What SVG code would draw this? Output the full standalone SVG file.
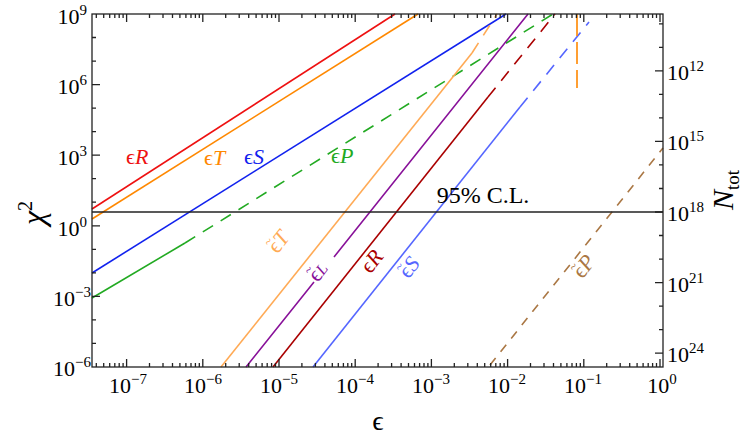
<svg xmlns="http://www.w3.org/2000/svg" width="747" height="439" viewBox="0 0 747 439">
<style>
text{font-family:"Liberation Serif","DejaVu Serif",serif;fill:#000}
.tk{font-size:22px}
.lb{font-size:22px}
.ln{fill:none;stroke-width:1.6}
.ax{fill:none;stroke:#222;stroke-width:1.3}
</style>
<rect x="0" y="0" width="747" height="439" fill="#fff"/>
<g id="connectors">
<path class="ln" stroke="#ee1111" d="M92,209 L395,14"/>
<path class="ln" stroke="#ff8800" d="M92,219 L418,14"/>
<path class="ln" stroke="#1122ee" d="M92,273 L506,14"/>
<path class="ln" stroke="#22aa22" d="M92,298 L185,243"/>
<path class="ln" stroke="#22aa22" stroke-dasharray="12,9" d="M185,243 L553,14"/>
<path class="ln" stroke="#ffaa55" d="M221,367 L472,53"/>
<path class="ln" stroke="#ffaa55" stroke-dasharray="12,9" d="M472,53 L497,14"/>
<path class="ln" stroke="#881199" d="M246,367 L314,282 M334,257 L528,14"/>
<path class="ln" stroke="#aa0000" d="M273,367 L488,97"/>
<path class="ln" stroke="#aa0000" stroke-dasharray="12,9" d="M488,97 L555,14"/>
<path class="ln" stroke="#5566ff" d="M313,367 L520,107"/>
<path class="ln" stroke="#5566ff" stroke-dasharray="12,9" d="M520,107 L589,22"/>
<path class="ln" stroke="#ff8800" stroke-dasharray="22,6" d="M577,14 L577,88"/>
<path class="ln" stroke="#aa7744" stroke-dasharray="9,8" d="M490,365 L663,148"/>
<path fill="none" stroke="#222" stroke-width="1.6" d="M92,212 H663"/>
</g>
<g id="axes">
<rect class="ax" x="92" y="14" width="571" height="353"/>
<path class="ax" d="M126.6,367v-8M202.8,367v-8M279,367v-8M355.2,367v-8M431.4,367v-8M507.6,367v-8M583.8,367v-8M660,367v-8
M126.6,14v8M202.8,14v8M279,14v8M355.2,14v8M431.4,14v8M507.6,14v8M583.8,14v8M660,14v8"/>
<path class="ax" d="M96.3,367v-4M103.7,367v-4M109.7,367v-4M114.8,367v-4M119.2,367v-4M123.1,367v-4
M149.5,367v-4M163,367v-4M172.5,367v-4M179.9,367v-4M185.9,367v-4M191,367v-4M195.4,367v-4M199.3,367v-4
M225.7,367v-4M239.2,367v-4M248.7,367v-4M256.1,367v-4M262.1,367v-4M267.2,367v-4M271.6,367v-4M275.5,367v-4
M301.9,367v-4M315.4,367v-4M324.9,367v-4M332.3,367v-4M338.3,367v-4M343.4,367v-4M347.8,367v-4M351.7,367v-4
M378.1,367v-4M391.6,367v-4M401.1,367v-4M408.5,367v-4M414.5,367v-4M419.6,367v-4M424,367v-4M427.9,367v-4
M454.3,367v-4M467.8,367v-4M477.3,367v-4M484.7,367v-4M490.7,367v-4M495.8,367v-4M500.2,367v-4M504.1,367v-4
M530.5,367v-4M544,367v-4M553.5,367v-4M560.9,367v-4M566.9,367v-4M572,367v-4M576.4,367v-4M580.3,367v-4
M606.7,367v-4M620.2,367v-4M629.7,367v-4M637.1,367v-4M643.1,367v-4M648.2,367v-4M652.6,367v-4M656.5,367v-4
M96.3,14v4M103.7,14v4M109.7,14v4M114.8,14v4M119.2,14v4M123.1,14v4
M149.5,14v4M163,14v4M172.5,14v4M179.9,14v4M185.9,14v4M191,14v4M195.4,14v4M199.3,14v4
M225.7,14v4M239.2,14v4M248.7,14v4M256.1,14v4M262.1,14v4M267.2,14v4M271.6,14v4M275.5,14v4
M301.9,14v4M315.4,14v4M324.9,14v4M332.3,14v4M338.3,14v4M343.4,14v4M347.8,14v4M351.7,14v4
M378.1,14v4M391.6,14v4M401.1,14v4M408.5,14v4M414.5,14v4M419.6,14v4M424,14v4M427.9,14v4
M454.3,14v4M467.8,14v4M477.3,14v4M484.7,14v4M490.7,14v4M495.8,14v4M500.2,14v4M504.1,14v4
M530.5,14v4M544,14v4M553.5,14v4M560.9,14v4M566.9,14v4M572,14v4M576.4,14v4M580.3,14v4
M606.7,14v4M620.2,14v4M629.7,14v4M637.1,14v4M643.1,14v4M648.2,14v4M652.6,14v4M656.5,14v4"/>
<path class="ax" d="M92,84.6h8M92,155.2h8M92,225.8h8M92,296.4h8
M92,37.5h4M92,61.1h4M92,108.1h4M92,131.7h4M92,178.7h4M92,202.2h4M92,249.3h4M92,272.8h4M92,319.9h4M92,343.4h4
M663,70.8h-8M663,141.4h-8M663,212h-8M663,282.6h-8M663,353.2h-8
M663,23.8h-4M663,47.3h-4M663,94.3h-4M663,117.9h-4M663,164.9h-4M663,188.5h-4M663,235.5h-4M663,259.1h-4M663,306.1h-4M663,329.7h-4"/>
</g>
<g id="ticklabels" class="tk">
<text x="87" y="24" text-anchor="end">10<tspan dy="-9" font-size="15">9</tspan></text>
<text x="87" y="94" text-anchor="end">10<tspan dy="-9" font-size="15">6</tspan></text>
<text x="87" y="165" text-anchor="end">10<tspan dy="-9" font-size="15">3</tspan></text>
<text x="87" y="236" text-anchor="end">10<tspan dy="-9" font-size="15">0</tspan></text>
<text x="91" y="306" text-anchor="end">10<tspan dy="-9" font-size="15">−3</tspan></text>
<text x="91" y="376" text-anchor="end">10<tspan dy="-9" font-size="15">−6</tspan></text>
<text x="128" y="393" text-anchor="middle">10<tspan dy="-9" font-size="15">−7</tspan></text>
<text x="203" y="393" text-anchor="middle">10<tspan dy="-9" font-size="15">−6</tspan></text>
<text x="279" y="393" text-anchor="middle">10<tspan dy="-9" font-size="15">−5</tspan></text>
<text x="355" y="393" text-anchor="middle">10<tspan dy="-9" font-size="15">−4</tspan></text>
<text x="431" y="393" text-anchor="middle">10<tspan dy="-9" font-size="15">−3</tspan></text>
<text x="507" y="393" text-anchor="middle">10<tspan dy="-9" font-size="15">−2</tspan></text>
<text x="583" y="393" text-anchor="middle">10<tspan dy="-9" font-size="15">−1</tspan></text>
<text x="662" y="393" text-anchor="middle">10<tspan dy="-9" font-size="15">0</tspan></text>
<text x="667" y="80">10<tspan dy="-9" font-size="15">12</tspan></text>
<text x="667" y="150">10<tspan dy="-9" font-size="15">15</tspan></text>
<text x="667" y="221">10<tspan dy="-9" font-size="15">18</tspan></text>
<text x="667" y="292">10<tspan dy="-9" font-size="15">21</tspan></text>
<text x="667" y="362">10<tspan dy="-9" font-size="15">24</tspan></text>
</g>
<g id="axislabels">
<text x="0" y="0" font-size="32" font-style="italic" transform="translate(44,213) rotate(-90)" text-anchor="middle">χ<tspan dy="-12" font-size="20" font-style="normal">2</tspan></text>
<text x="378" y="430" font-size="28" text-anchor="middle">ϵ</text>
<text x="0" y="0" font-size="30" font-style="italic" transform="translate(733,190) rotate(-90)" text-anchor="middle">N<tspan font-size="19" font-style="normal" dy="6">tot</tspan></text>
<text x="483" y="203" font-size="24" text-anchor="middle">95% C.L.</text>
</g>
<g id="labels" class="lb">
<text x="126" y="164" style="fill:#ee1111">ϵ<tspan font-style="italic">R</tspan></text>
<text x="204" y="165" style="fill:#ff8800">ϵ<tspan font-style="italic">T</tspan></text>
<text x="244" y="164" style="fill:#1122ee">ϵ<tspan font-style="italic">S</tspan></text>
<text x="331" y="163" style="fill:#22aa22">ϵ<tspan font-style="italic">P</tspan></text>
<g transform="translate(285,245) rotate(-52)"><text x="-12" y="0" style="fill:#ffaa55">ϵ<tspan font-style="italic">T</tspan></text><text x="-11" y="-11" font-size="13" style="fill:#ffaa55">~</text></g>
<g transform="translate(324,275) rotate(-52)"><text x="-10" y="0" style="fill:#881199">ϵ<tspan font-style="italic" font-size="16">L</tspan></text><text x="-9" y="-11" font-size="13" style="fill:#881199">~</text></g>
<g transform="translate(378,265) rotate(-52)"><text x="-12" y="0" style="fill:#aa0000">ϵ<tspan font-style="italic">R</tspan></text></g>
<g transform="translate(416,270) rotate(-52)"><text x="-12" y="0" style="fill:#5566ff">ϵ<tspan font-style="italic">S</tspan></text><text x="-11" y="-11" font-size="13" style="fill:#5566ff">~</text></g>
<g transform="translate(590,270) rotate(-52)"><text x="-12" y="0" style="fill:#aa7744">ϵ<tspan font-style="italic">P</tspan></text><text x="-11" y="-11" font-size="13" style="fill:#aa7744">~</text></g>
</g>
</svg>
